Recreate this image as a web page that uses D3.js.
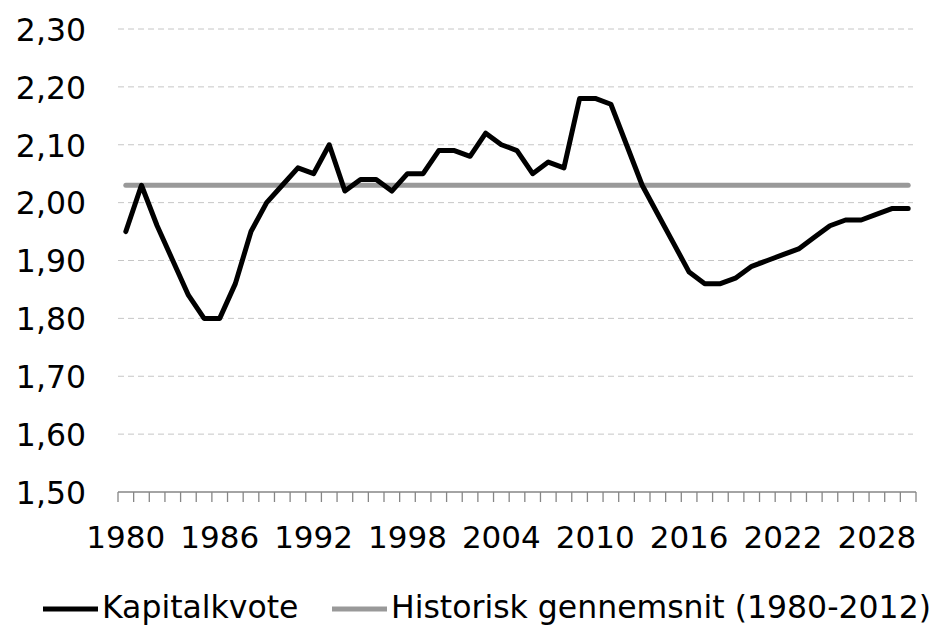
<!DOCTYPE html>
<html>
<head>
<meta charset="utf-8">
<script src="https://cdn.jsdelivr.net/npm/d3@7"></script>
<style>
  body { margin: 0; background: #fff; }
  text { font-family: "DejaVu Sans", Verdana, sans-serif; fill: #000; }
</style>
</head>
<body>
<svg id="chart" width="944" height="626"></svg>
<script>
// data
var years = d3.range(1980, 2031);
var kapitalkvote = [1.95, 2.03, 1.96, 1.90, 1.84, 1.80, 1.80, 1.86, 1.95, 2.00,
                    2.03, 2.06, 2.05, 2.10, 2.02, 2.04, 2.04, 2.02, 2.05, 2.05,
                    2.09, 2.09, 2.08, 2.12, 2.10, 2.09, 2.05, 2.07, 2.06, 2.18,
                    2.18, 2.17, 2.10, 2.03, 1.98, 1.93, 1.88, 1.86, 1.86, 1.87,
                    1.89, 1.90, 1.91, 1.92, 1.94, 1.96, 1.97, 1.97, 1.98, 1.99,
                    1.99];
var historisk = 2.03;
var yTicks = [1.5, 1.6, 1.7, 1.8, 1.9, 2.0, 2.1, 2.2, 2.3];
var xLabels = [1980, 1986, 1992, 1998, 2004, 2010, 2016, 2022, 2028];
var seriesNames = ["Kapitalkvote", "Historisk gennemsnit (1980-2012)"];

var svg = d3.select("#chart");

var x = d3.scaleBand().domain(years).range([118, 916]).padding(0);
var y = d3.scaleLinear().domain([1.5, 2.3]).range([492, 29]);
var cx = function(yr) { return x(yr) + x.bandwidth() / 2; };

// gridlines
svg.append("g").selectAll("line")
  .data(yTicks.slice(1))
  .enter().append("line")
  .attr("x1", 118).attr("x2", 913)
  .attr("y1", function(d) { return y(d); })
  .attr("y2", function(d) { return y(d); })
  .attr("stroke", "#c6c6c6")
  .attr("stroke-width", 1)
  .attr("stroke-dasharray", "6,4");

// y labels
var yAxis = d3.axisLeft(y).tickValues(yTicks).tickSize(0).tickPadding(0)
  .tickFormat(function(d) { return d3.format(".2f")(d).replace(".", ","); });
var gy = svg.append("g").attr("transform", "translate(86,0)").call(yAxis);
gy.select(".domain").remove();
gy.selectAll("text").style("font-size", "31.5px").attr("dy", "0.36em")
  .style("font-family", "'DejaVu Sans', Verdana, sans-serif").attr("fill", "#000");

// x axis line + ticks at band edges
var gx = svg.append("g");
gx.append("line")
  .attr("x1", x.range()[0]).attr("x2", x.range()[1])
  .attr("y1", y(1.5)).attr("y2", y(1.5))
  .attr("stroke", "#868686").attr("stroke-width", 1.3);
var edges = years.map(function(d) { return x(d); }).concat([x.range()[1]]);
gx.selectAll("line.tick")
  .data(edges)
  .enter().append("line")
  .attr("class", "tick")
  .attr("x1", function(d) { return d; }).attr("x2", function(d) { return d; })
  .attr("y1", y(1.5)).attr("y2", y(1.5) + 10)
  .attr("stroke", "#868686").attr("stroke-width", 1.3);

var xAxis = d3.axisBottom(x).tickValues(xLabels).tickSize(0).tickPadding(0);
var gxl = svg.append("g").attr("transform", "translate(0," + (y(1.5) + 56) + ")").call(xAxis);
gxl.select(".domain").remove();
gxl.selectAll("text").attr("dy", 0).style("font-size", "31px")
  .style("font-family", "'DejaVu Sans', Verdana, sans-serif").attr("fill", "#000");

// historic average
svg.append("line")
  .attr("x1", cx(years[0])).attr("x2", cx(years[years.length - 1]))
  .attr("y1", y(historisk)).attr("y2", y(historisk))
  .attr("stroke", "#999999").attr("stroke-width", 5)
  .attr("stroke-linecap", "round");

// kapitalkvote
var line = d3.line()
  .x(function(d, i) { return cx(years[i]); })
  .y(function(d) { return y(d); });
svg.append("path")
  .datum(kapitalkvote)
  .attr("d", line)
  .attr("fill", "none")
  .attr("stroke", "#000")
  .attr("stroke-width", 5)
  .attr("stroke-linejoin", "round")
  .attr("stroke-linecap", "round");

// legend
var legend = [
  { name: seriesNames[0], color: "#000", x: 43 },
  { name: seriesNames[1], color: "#999999", x: 332 }
];
var lg = svg.append("g").selectAll("g").data(legend).enter().append("g")
  .attr("transform", function(d) { return "translate(" + d.x + ",609)"; });
lg.append("line")
  .attr("x1", 0).attr("x2", 55).attr("y1", 0).attr("y2", 0)
  .attr("stroke", function(d) { return d.color; })
  .attr("stroke-width", 5);
lg.append("text")
  .attr("x", 59).attr("y", 9)
  .style("font-size", "31.5px")
  .text(function(d) { return d.name; });
</script>
</body>
</html>
